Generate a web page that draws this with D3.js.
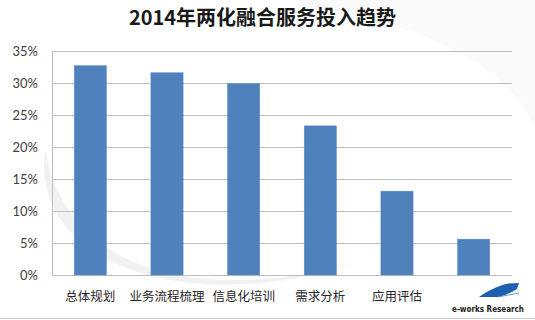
<!DOCTYPE html>
<html>
<head>
<meta charset="utf-8">
<script src="https://cdn.jsdelivr.net/npm/d3@7"></script>
<style>
  body { margin: 0; background: #fff; }
  svg { display: block; font-family: "Noto Sans CJK SC", "Open Sans", sans-serif; }
</style>
</head>
<body>
<div id="chart"></div>
<script>
// chart data
var categories = ["总体规划", "业务流程梳理", "信息化培训", "需求分析", "应用评估", ""];
var values = [32.7, 31.6, 29.9, 23.3, 13.1, 5.6];
var yTicks = [0, 5, 10, 15, 20, 25, 30, 35];

var w = 535;
var h = 320;
var margin = { top: 51, right: 23, bottom: 45, left: 52 };

var svg = d3.select("#chart")
  .append("svg")
  .attr("width", w)
  .attr("height", h);

// faint background swoosh
svg.append("path")
  .attr("d", "M45,150 C30,260 180,320 360,262 C220,300 70,285 45,150 Z")
  .style("fill", "#f1f1f1");
svg.append("path")
  .attr("d", "M300,8 C420,18 515,70 535,130 L535,0 L300,0 Z")
  .style("fill", "#fafafa");

var xScale = d3.scaleBand()
  .domain(d3.range(values.length))
  .range([margin.left, w - margin.right])
  .paddingInner(0.58)
  .paddingOuter(0.29);

var yScale = d3.scaleLinear()
  .domain([0, 35])
  .range([h - margin.bottom, margin.top]);

//gridlines
svg.append("g")
  .selectAll("line")
  .data(yTicks)
  .enter()
  .append("line")
  .attr("x1", margin.left)
  .attr("x2", w - margin.right)
  .attr("y1", function (d) { return yScale(d) + 0.5; })
  .attr("y2", function (d) { return yScale(d) + 0.5; })
  .style("stroke", "#bdbdbd")
  .style("stroke-width", 1);

//left axis line
svg.append("line")
  .attr("x1", margin.left + 0.5)
  .attr("x2", margin.left + 0.5)
  .attr("y1", yScale(35))
  .attr("y2", yScale(0))
  .style("stroke", "#bdbdbd");

//y tick labels
var yAxis = d3.axisLeft(yScale)
  .tickValues(yTicks)
  .tickSize(0)
  .tickPadding(14)
  .tickFormat(function (d) { return d + "%"; });

svg.append("g")
  .attr("transform", "translate(" + margin.left + ",0)")
  .call(yAxis)
  .call(function (g) { g.select(".domain").remove(); })
  .selectAll("text")
  .style("font-family", "Lato, 'Open Sans', sans-serif")
  .style("font-size", "13px")
  .style("fill", "#404040");

//bars
svg.selectAll("rect.bar")
  .data(values)
  .enter()
  .append("rect")
  .attr("class", "bar")
  .attr("x", function (d, i) { return xScale(i); })
  .attr("y", function (d) { return yScale(d); })
  .attr("width", xScale.bandwidth())
  .attr("height", function (d) { return yScale(0) - yScale(d); })
  .style("fill", "#4f81bd")
  .style("stroke", "#5b8cc8")
  .style("stroke-width", 0.5);

//category labels
svg.selectAll("text.cat")
  .data(categories)
  .enter()
  .append("text")
  .attr("class", "cat")
  .attr("x", function (d, i) { return xScale(i) + xScale.bandwidth() / 2; })
  .attr("y", 301)
  .attr("text-anchor", "middle")
  .style("font-size", "12.5px")
  .style("fill", "#262626")
  .text(function (d) { return d; });

//title
svg.append("text")
  .attr("x", w / 2 - 5)
  .attr("y", 25)
  .attr("text-anchor", "middle")
  .style("font-size", "20px")
  .style("font-weight", "bold")
  .style("fill", "#1a1a1a")
  .text("2014年两化融合服务投入趋势");

//bottom rule
svg.append("line")
  .attr("x1", 0)
  .attr("x2", w)
  .attr("y1", 318.5)
  .attr("y2", 318.5)
  .style("stroke", "#cfcfcf");

//logo
var logo = svg.append("g");
logo.append("path")
  .attr("d", "M479,297 C487,291 498,286 508,283.5 L519,283 L517,289 C512,292 506,295 500,297 Z")
  .style("fill", "#1f5fb0");
logo.append("path")
  .attr("d", "M498,297 L519,293")
  .style("stroke", "#6f9bd0")
  .style("stroke-width", 1);
logo.append("text")
  .attr("x", 488)
  .attr("y", 312)
  .attr("text-anchor", "middle")
  .style("font-family", "'Liberation Sans Narrow', 'DejaVu Sans Condensed', sans-serif")
  .style("font-size", "8px")
  .style("font-weight", "bold")
  .style("fill", "#222")
  .text("e-works Research");
</script>
</body>
</html>
